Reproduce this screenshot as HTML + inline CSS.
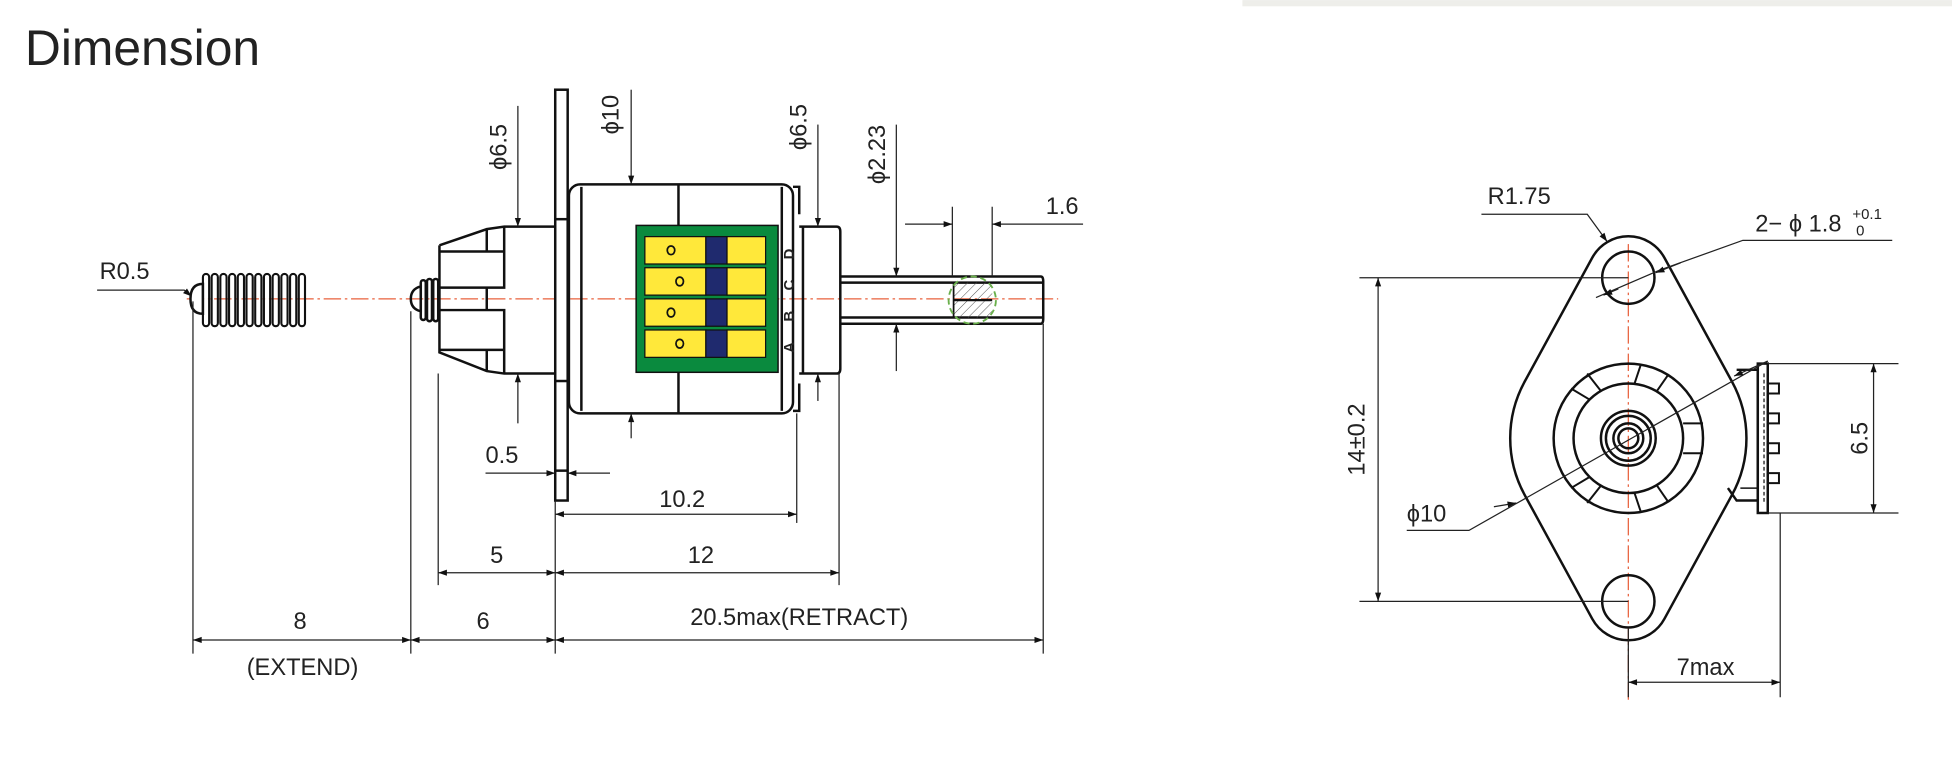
<!DOCTYPE html>
<html><head><meta charset="utf-8"><style>
html,body{margin:0;padding:0;background:#fff;}
svg{display:block;}
text{font-family:"Liberation Sans",sans-serif;fill:#222;}
</style></head><body>
<svg width="1952" height="772" viewBox="0 0 1568 620" xmlns="http://www.w3.org/2000/svg">
<defs>
<marker id="a" viewBox="0 0 10 10" refX="10" refY="5" markerWidth="14" markerHeight="7" markerUnits="userSpaceOnUse" orient="auto-start-reverse"><path d="M0,1.5 L10,5 L0,8.5z" fill="#111"/></marker>
<pattern id="h" width="5" height="5" patternUnits="userSpaceOnUse" patternTransform="rotate(45)"><line x1="0" y1="0" x2="0" y2="5" stroke="#555" stroke-width="0.8"/></pattern>
</defs>
<rect x="998" y="0" width="570" height="5" fill="#eeeeea"/>
<text x="20" y="52" font-size="40">Dimension</text>

<line x1="150" y1="240" x2="850" y2="240" stroke="#e8603c" stroke-width="1" stroke-dasharray="14,3,2,3"/>

<g fill="none" stroke="#111" stroke-width="2">
<path d="M153,240 Q153,228 163,228 L163,252 Q153,252 153,240z" fill="#fff"/>
<g stroke-width="1.7">
<rect x="163" y="220" width="5" height="42" rx="2.5"/><rect x="170" y="220" width="5" height="42" rx="2.5"/><rect x="177" y="220" width="5" height="42" rx="2.5"/><rect x="184" y="220" width="5" height="42" rx="2.5"/><rect x="191" y="220" width="5" height="42" rx="2.5"/><rect x="198" y="220" width="5" height="42" rx="2.5"/><rect x="205" y="220" width="5" height="42" rx="2.5"/><rect x="212" y="220" width="5" height="42" rx="2.5"/><rect x="219" y="220" width="5" height="42" rx="2.5"/><rect x="226" y="220" width="5" height="42" rx="2.5"/><rect x="233" y="220" width="5" height="42" rx="2.5"/><rect x="240" y="220" width="5" height="42" rx="2.5"/>
</g>
<path d="M330,240 Q330,232 338,230 L338,250 Q330,248 330,240z"/>
<rect x="338" y="225" width="4" height="32" rx="2"/><rect x="343" y="224" width="4" height="34" rx="2"/><rect x="348" y="224" width="4" height="34" rx="2"/>
<path d="M353,197 L391,184 L405,182 L446,182 M353,197 L353,283 L391,298 L405,300 L446,300"/>
<path d="M353,202 L405,202 L405,231 L353,231 M353,249 L405,249 L405,281 L353,281 M391,231 L391,249 M391,184 L391,202 M405,182 L405,202 M391,281 L391,298 M405,281 L405,300"/>
<rect x="446" y="72" width="10" height="330" fill="#fff"/>
<line x1="446" y1="176" x2="456" y2="176"/><line x1="446" y1="306" x2="456" y2="306"/><line x1="446" y1="378" x2="456" y2="378"/>
<rect x="457" y="148" width="180" height="184" rx="9"/>
<line x1="467" y1="150" x2="467" y2="330"/>
<line x1="628" y1="150" x2="628" y2="330"/>
<line x1="545" y1="148" x2="545" y2="181"/><line x1="545" y1="299" x2="545" y2="332"/>
<path d="M637,150 L642,150 L642,172 M642,308 L642,330 L637,330"/>
<path d="M642,182 L672,182 Q675,182 675,186 L675,296 Q675,300 672,300 L642,300"/>
<line x1="645" y1="182" x2="645" y2="300"/>
<path d="M675,222 L836,222 Q838,222 838,226 L838,256 Q838,260 836,260 L675,260"/>
<line x1="675" y1="227" x2="838" y2="227"/><line x1="675" y1="255" x2="838" y2="255"/>
</g>
<rect x="766" y="227" width="31" height="28" fill="url(#h)"/>
<line x1="766" y1="241" x2="797" y2="241" stroke="#111" stroke-width="1.8"/>
<line x1="766" y1="227" x2="766" y2="255" stroke="#111" stroke-width="1.4"/>
<circle cx="781" cy="241" r="19" fill="none" stroke="#6ab04c" stroke-width="1.5" stroke-dasharray="5,3"/>

<rect x="511" y="181" width="114" height="118" fill="#0a8a3e" stroke="#111" stroke-width="1.2"/>
<g stroke="#111" stroke-width="1">
<rect x="518" y="190" width="49" height="22" fill="#ffe83a"/><rect x="567" y="190" width="17" height="22" fill="#1f2a6e"/><rect x="584" y="190" width="31" height="22" fill="#ffe83a"/>
<rect x="518" y="215" width="49" height="22" fill="#ffe83a"/><rect x="567" y="215" width="17" height="22" fill="#1f2a6e"/><rect x="584" y="215" width="31" height="22" fill="#ffe83a"/>
<rect x="518" y="240" width="49" height="22" fill="#ffe83a"/><rect x="567" y="240" width="17" height="22" fill="#1f2a6e"/><rect x="584" y="240" width="31" height="22" fill="#ffe83a"/>
<rect x="518" y="265" width="49" height="22" fill="#ffe83a"/><rect x="567" y="265" width="17" height="22" fill="#1f2a6e"/><rect x="584" y="265" width="31" height="22" fill="#ffe83a"/>
</g>
<g fill="none" stroke="#111" stroke-width="1.4">
<ellipse cx="539" cy="201" rx="3" ry="3.5"/><ellipse cx="546" cy="226" rx="3" ry="3.5"/><ellipse cx="539" cy="251" rx="3" ry="3.5"/><ellipse cx="546" cy="276" rx="3" ry="3.5"/>
</g>
<g font-size="12" font-weight="bold">
<text transform="translate(638,204) rotate(-90)" text-anchor="middle">D</text>
<text transform="translate(638,229) rotate(-90)" text-anchor="middle">C</text>
<text transform="translate(638,254) rotate(-90)" text-anchor="middle">B</text>
<text transform="translate(638,279) rotate(-90)" text-anchor="middle">A</text>
</g>

<g stroke="#222" stroke-width="1" fill="none">
<line x1="416" y1="85" x2="416" y2="182" marker-end="url(#a)"/>
<line x1="416" y1="340" x2="416" y2="300" marker-end="url(#a)"/>
<line x1="507" y1="72" x2="507" y2="148" marker-end="url(#a)"/>
<line x1="507" y1="352" x2="507" y2="332" marker-end="url(#a)"/>
<line x1="657" y1="100" x2="657" y2="182" marker-end="url(#a)"/>
<line x1="657" y1="322" x2="657" y2="300" marker-end="url(#a)"/>
<line x1="720" y1="100" x2="720" y2="222" marker-end="url(#a)"/>
<line x1="720" y1="298" x2="720" y2="260" marker-end="url(#a)"/>
<line x1="765" y1="166" x2="765" y2="222"/><line x1="797" y1="166" x2="797" y2="222"/>
<line x1="727" y1="180" x2="765" y2="180" marker-end="url(#a)"/>
<line x1="870" y1="180" x2="797" y2="180" marker-end="url(#a)"/>
<line x1="390" y1="380" x2="446" y2="380" marker-end="url(#a)"/>
<line x1="490" y1="380" x2="456" y2="380" marker-end="url(#a)"/>
<line x1="640" y1="332" x2="640" y2="420"/>
<line x1="446" y1="413" x2="640" y2="413" marker-start="url(#a)" marker-end="url(#a)"/>
<line x1="674" y1="300" x2="674" y2="470"/>
<line x1="446" y1="460" x2="674" y2="460" marker-start="url(#a)" marker-end="url(#a)"/>
<line x1="352" y1="300" x2="352" y2="470"/>
<line x1="352" y1="460" x2="446" y2="460" marker-start="url(#a)" marker-end="url(#a)"/>
<line x1="155" y1="242" x2="155" y2="525"/>
<line x1="330" y1="250" x2="330" y2="525"/>
<line x1="446" y1="402" x2="446" y2="525"/>
<line x1="838" y1="260" x2="838" y2="525"/>
<line x1="155" y1="514" x2="330" y2="514" marker-start="url(#a)" marker-end="url(#a)"/>
<line x1="330" y1="514" x2="446" y2="514" marker-start="url(#a)" marker-end="url(#a)"/>
<line x1="446" y1="514" x2="838" y2="514" marker-start="url(#a)" marker-end="url(#a)"/>
<polyline points="78,233 148,233 154,238" marker-end="url(#a)"/>
</g>
<g font-size="19">
<text x="80" y="224">R0.5</text>
<text transform="translate(407,118) rotate(-90)" text-anchor="middle">ϕ6.5</text>
<text transform="translate(497,92) rotate(-90)" text-anchor="middle">ϕ10</text>
<text transform="translate(648,102) rotate(-90)" text-anchor="middle">ϕ6.5</text>
<text transform="translate(711,124) rotate(-90)" text-anchor="middle">ϕ2.23</text>
<text x="840" y="172">1.6</text>
<text x="390" y="372">0.5</text>
<text x="548" y="407" text-anchor="middle">10.2</text>
<text x="563" y="452" text-anchor="middle">12</text>
<text x="399" y="452" text-anchor="middle">5</text>
<text x="241" y="505" text-anchor="middle">8</text>
<text x="388" y="505" text-anchor="middle">6</text>
<text x="642" y="502" text-anchor="middle">20.5max(RETRACT)</text>
<text x="243" y="542" text-anchor="middle">(EXTEND)</text>
</g>

<line x1="1308" y1="196" x2="1308" y2="562" stroke="#e8603c" stroke-width="1" stroke-dasharray="14,3,2,3"/>
<g fill="none" stroke="#111" stroke-width="2">
<path d="M1337,207 L1391,306 A95,95 0 0 1 1391,398 L1337,497 A33,33 0 0 1 1279,497 L1225,398 A95,95 0 0 1 1225,306 L1279,207 A33,33 0 0 1 1337,207z"/>
<circle cx="1308" cy="223" r="21"/>
<circle cx="1308" cy="483" r="21"/>
<circle cx="1308" cy="352" r="60"/>
<circle cx="1308" cy="352" r="44"/>
<circle cx="1308" cy="352" r="22"/>
<circle cx="1308" cy="352" r="18"/>
<circle cx="1308" cy="352" r="12"/>
<circle cx="1308" cy="352" r="8"/>
<g stroke-width="1.6">
<line x1="1313" y1="308" x2="1318" y2="293"/><line x1="1331" y1="314" x2="1340" y2="301"/>
<line x1="1352" y1="340" x2="1368" y2="340"/><line x1="1352" y1="364" x2="1368" y2="364"/>
<line x1="1313" y1="396" x2="1318" y2="411"/><line x1="1331" y1="390" x2="1340" y2="403"/>
<line x1="1277" y1="321" x2="1262" y2="312"/><line x1="1286" y1="314" x2="1275" y2="300"/>
<line x1="1277" y1="383" x2="1262" y2="392"/><line x1="1286" y1="390" x2="1275" y2="404"/>
</g>
<path d="M1395,297 L1412,297 L1412,402 L1395,402 L1388,392"/>
<line x1="1398" y1="392" x2="1412" y2="392" stroke-width="1.2"/>
<rect x="1412" y="292" width="8" height="120" fill="#fff"/>
<line x1="1417" y1="300" x2="1417" y2="404" stroke-width="1" stroke-dasharray="3,2"/>
<path d="M1420,308 h9 v8 h-9 M1420,332 h9 v8 h-9 M1420,356 h9 v8 h-9 M1420,380 h9 v8 h-9" stroke-width="1.6"/>
</g>
<g stroke="#222" stroke-width="1" fill="none">
<line x1="1092" y1="223" x2="1308" y2="223"/>
<line x1="1092" y1="483" x2="1308" y2="483"/>
<line x1="1107" y1="223" x2="1107" y2="483" marker-start="url(#a)" marker-end="url(#a)"/>
<line x1="1420" y1="292" x2="1525" y2="292"/>
<line x1="1420" y1="412" x2="1525" y2="412"/>
<line x1="1505" y1="292" x2="1505" y2="412" marker-start="url(#a)" marker-end="url(#a)"/>
<line x1="1308" y1="505" x2="1308" y2="560"/>
<line x1="1430" y1="412" x2="1430" y2="560"/>
<line x1="1308" y1="548" x2="1430" y2="548" marker-start="url(#a)" marker-end="url(#a)"/>
<polyline points="1130,426 1180,426 1217,405"/>
<line x1="1217" y1="405" x2="1420" y2="290"/>
<line x1="1200" y1="407" x2="1218" y2="404" marker-end="url(#a)"/>
<line x1="1420" y1="290" x2="1393" y2="302" marker-end="url(#a)"/>
<polyline points="1190,172 1275,172 1291,194" marker-end="url(#a)"/>
<polyline points="1520,193 1400,193 1333,217" />
<line x1="1350" y1="211" x2="1330" y2="219" marker-end="url(#a)"/>
<line x1="1333" y1="217" x2="1282" y2="239"/>
<line x1="1300" y1="232" x2="1288" y2="237" marker-end="url(#a)"/>
</g>
<g font-size="19">
<text transform="translate(1096,353) rotate(-90)" text-anchor="middle">14±0.2</text>
<text transform="translate(1500,352) rotate(-90)" text-anchor="middle">6.5</text>
<text x="1370" y="542" text-anchor="middle">7max</text>
<text x="1130" y="419">ϕ10</text>
<text x="1195" y="164">R1.75</text>
<text x="1410" y="186">2− ϕ 1.8</text>
<text x="1488" y="176" font-size="12">+0.1</text>
<text x="1491" y="189" font-size="12">0</text>
</g>
</svg>
</body></html>
